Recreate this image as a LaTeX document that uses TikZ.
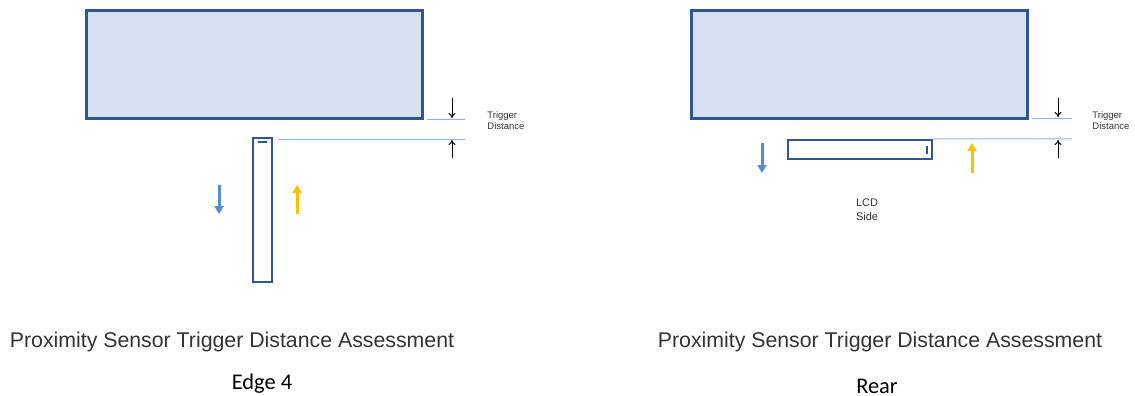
\documentclass[tikz,border=0pt]{standalone}
\usepackage{fontspec}
\setmainfont{Liberation Sans}
\newfontfamily\calibrifont{Carlito}
\usetikzlibrary{
		positioning,
		arrows.meta
	}
\tikzset{
		>=stealth
	}
\definecolor{darkblue}{RGB}{47, 85, 151}
\definecolor{paleblue}{RGB}{214, 224, 240}
\definecolor{guideblue}{RGB}{150, 175, 212}
\definecolor{moveblue}{RGB}{85, 140, 215}
\definecolor{moveorange}{RGB}{255, 192, 0}

\begin{document}
\begin{tikzpicture}
		[x=0.5pt, y=-0.5pt,
		device/.style= {draw=darkblue, fill=paleblue, line width=1.5pt, inner sep=0pt, minimum width=168pt, minimum height=54pt},
		sensor/.style= {draw=darkblue, fill=white, line width=1.2pt, inner sep=0pt},
		tick line/.style= {darkblue, line width=0.9pt},
		guide/.style= {guideblue, line width=0.5pt},
		dim arrow/.style= {-{To[length=2.5pt,width=3.5pt]}, black, line width=0.5pt},
		move/.style= {-{Triangle[length=4pt,width=4.5pt]}, line width=1.5pt},
		trig/.style= {align=left, inner sep=0pt, anchor=west, text=black!80, font=\fontsize{4.75}{5.5}\selectfont},
		title/.style= {inner sep=0pt, text=black!80, font=\fontsize{10.65}{12}\selectfont},
		subtitle/.style= {inner sep=0pt, font=\calibrifont\fontsize{11.2}{13}\selectfont}
		]

		\useasboundingbox (0,0) rectangle (1135,396);

		% Edge 4
		\node [device] (dev1) at (254,64) {};
		\node [sensor, minimum width=9.5pt, minimum height=72pt] (bar1) at (262.5,210) {};
			\draw [tick line] ([xshift=-2.25pt, yshift=-2.5pt]bar1.north) -- ([xshift=2.25pt, yshift=-2.5pt]bar1.north);

		\coordinate (g1a) at (427,119);
		\coordinate (g1b) at (465,119);
		\coordinate (g2a) at (278,139);
		\coordinate (g2b) at (465,139);
		\draw [guide] (g1a) -- (g1b);
		\draw [guide] (g2a) -- (g2b);

		\coordinate (d1top) at (452,98);
		\coordinate (d1end) at (452,118);
		\coordinate (u1bot) at (452,158);
		\coordinate (u1end) at (452,140);
		\draw [dim arrow] (d1top) -- (d1end);
		\draw [dim arrow] (u1bot) -- (u1end);
		\node [trig] (trig1) at (487,121) {Trigger\\Distance};

		\coordinate (away1a) at (219,185);
		\coordinate (away1b) at (219,214);
		\coordinate (near1a) at (297,214);
		\coordinate (near1b) at (297,185);
		\draw [move, moveblue] (away1a) -- (away1b);
		\draw [move, moveorange] (near1a) -- (near1b);

		\node [title] (title1) at (232,342) {Proximity Sensor Trigger Distance Assessment};
		\node [subtitle] (sub1) at (262,384) {Edge 4};

		% Rear
		\node [device] (dev2) at (859,64) {};
		\node [sensor, minimum width=72pt, minimum height=9.5pt] (bar2) at (860,149.5) {};
			\draw [tick line] ([xshift=-3pt, yshift=2pt]bar2.east) -- ([xshift=-3pt, yshift=-2pt]bar2.east);

		\coordinate (g3a) at (1032,118);
		\coordinate (g3b) at (1072,118);
		\coordinate (g4b) at (1072,139);
		\draw [guide] (g3a) -- (g3b);
		\draw [guide] (bar2.north east) -- (g4b);

		\coordinate (d2top) at (1058,98);
		\coordinate (d2end) at (1058,117);
		\coordinate (u2bot) at (1058,158);
		\coordinate (u2end) at (1058,140);
		\draw [dim arrow] (d2top) -- (d2end);
		\draw [dim arrow] (u2bot) -- (u2end);
		\node [trig] (trig2) at (1092,121) {Trigger\\Distance};

		\coordinate (away2a) at (762,143);
		\coordinate (away2b) at (762,173);
		\coordinate (near2a) at (972,173);
		\coordinate (near2b) at (972,143);
		\draw [move, moveblue] (away2a) -- (away2b);
		\draw [move, moveorange] (near2a) -- (near2b);

		\node [align=center, inner sep=0pt, text=black!80, font=\fontsize{5.5}{7}\selectfont] (lcd) at (867,210) {LCD\\Side};

		\node [title] (title2) at (880,342) {Proximity Sensor Trigger Distance Assessment};
		\node [subtitle] (sub2) at (877,386) {Rear};

	\end{tikzpicture}
\end{document}
